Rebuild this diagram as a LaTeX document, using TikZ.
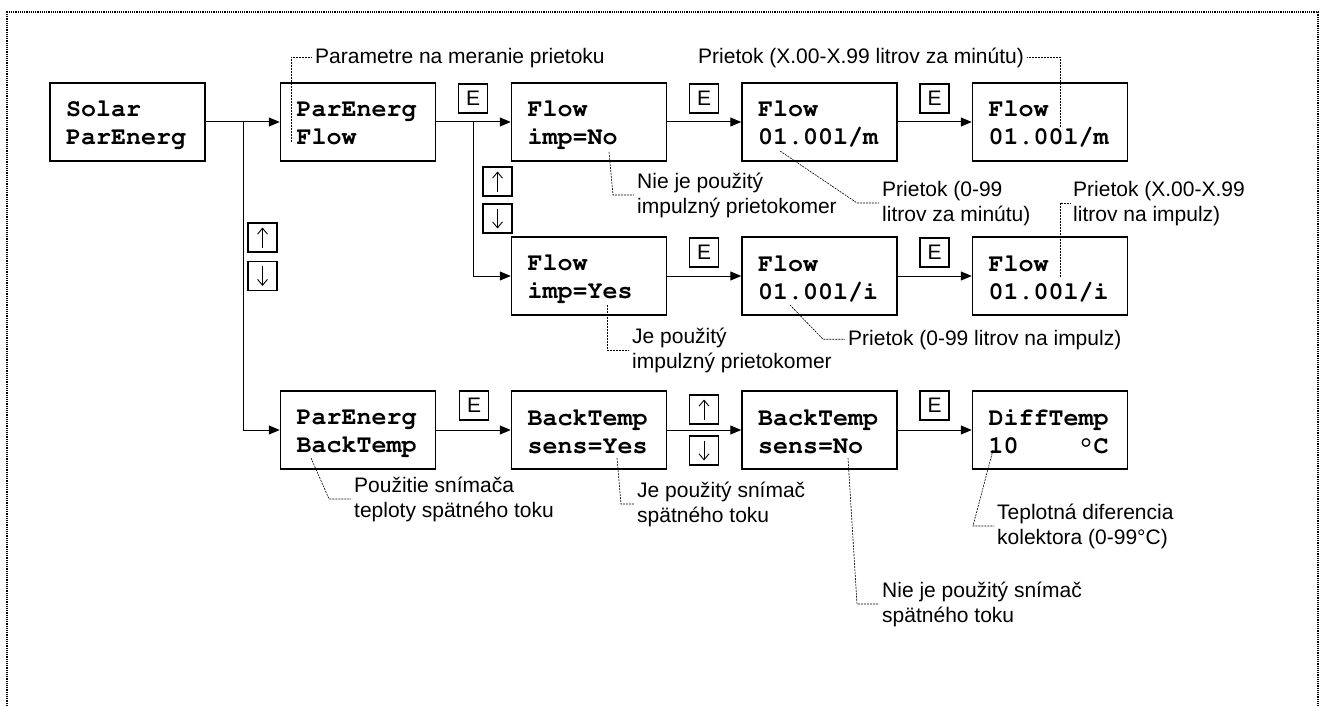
\documentclass[tikz,border=0pt]{standalone}
\usepackage{fontspec}
\setmainfont{Liberation Sans}
\usetikzlibrary{arrows.meta,calc}

% display font: bold Courier
\newcommand\lcdface{\fontencoding{T1}\fontfamily{pcr}\fontseries{b}\fontsize{25}{28}\selectfont}
\newcommand\lcddeg{{\fontencoding{TS1}\selectfont\char176}}
% struts keep every display line and every note line at a fixed height
\newcommand\lcdstrut{\rule[-2pt]{0pt}{22pt}}
\newcommand\notestrut{\rule[-5pt]{0pt}{22pt}}

\tikzset{
  lcd/.style={draw, line width=1.5pt, minimum width=155pt, minimum height=78pt,
    text width=123pt, inner xsep=16pt, inner ysep=0pt, align=left,
    font=\lcdface},
  key/.style={draw, line width=1.1pt, minimum width=29pt, minimum height=29pt,
    inner sep=0pt, font=\fontsize{21}{21}\selectfont},
  keyarrow/.style={line width=0.9pt, -{Straight Barb[length=6pt,width=10pt]}},
  note/.style={anchor=north west, inner xsep=3pt, inner ysep=0pt, align=left,
    font=\fontsize{21}{25.5}\selectfont},
  flow/.style={line width=1pt, -{Triangle[length=11pt,width=9pt]}},
  leader/.style={line width=0.6pt, dash pattern=on 2pt off 1pt},
  frame/.style={line width=2pt, dash pattern=on 1.2pt off 1pt},
}

\begin{document}
\begin{tikzpicture}[x=1pt,y=-1pt]
\useasboundingbox (0,0) rectangle (1323,706);

% page frame
\draw[frame] (7,706) -- (7,12.5) -- (1318,12.5) -- (1318,706);

% display states
\node[lcd] (solar)   at (127.5,122) {\lcdstrut Solar\\\lcdstrut ParEnerg};
\node[lcd] (pflow)   at (358,122)   {\lcdstrut ParEnerg\\\lcdstrut Flow};
\node[lcd] (impno)   at (589,122)   {\lcdstrut Flow\\\lcdstrut imp=No};
\node[lcd] (flowm)   at (819.5,122) {\lcdstrut Flow\\\lcdstrut 01.00l/m};
\node[lcd] (flowmx)  at (1050,122)  {\lcdstrut Flow\\\lcdstrut 01.00l/m};
\node[lcd] (impyes)  at (589,276)   {\lcdstrut Flow\\\lcdstrut imp=Yes};
\node[lcd] (flowi)   at (819.5,276) {\lcdstrut Flow\\\lcdstrut 01.00l/i};
\node[lcd] (flowix)  at (1050,276)  {\lcdstrut Flow\\\lcdstrut 01.00l/i};
\node[lcd] (pback)   at (358,430)   {\lcdstrut ParEnerg\\\lcdstrut BackTemp};
\node[lcd] (sensyes) at (589,430)   {\lcdstrut BackTemp\\\lcdstrut sens=Yes};
\node[lcd] (sensno)  at (819.5,430) {\lcdstrut BackTemp\\\lcdstrut sens=No};
\node[lcd] (diff)    at (1050,430)  {\lcdstrut DiffTemp\\\lcdstrut 10\hphantom{0000}\lcddeg C};

% branch points
\coordinate (b1) at (243,122);
\coordinate (b2) at (473,122);

% transitions
\draw[flow] (solar.east) -- (pflow.west);
\draw[flow] (b1) |- (pback.west);
\draw[flow] (pflow.east) -- (impno.west);
\draw[flow] (b2) |- (impyes.west);
\draw[flow] (impno.east) -- (flowm.west);
\draw[flow] (flowm.east) -- (flowmx.west);
\draw[flow] (impyes.east) -- (flowi.west);
\draw[flow] (flowi.east) -- (flowix.west);
\draw[flow] (pback.east) -- (sensyes.west);
\draw[flow] (sensyes.east) -- (sensno.west);
\draw[flow] (sensno.east) -- (diff.west);

% keys
\node[key] (e1) at (473,98.5)   {E};
\node[key] (e2) at (704,98.5)   {E};
\node[key] (e3) at (934.5,98.5) {E};
\node[key] (e4) at (704,252.5)  {E};
\node[key] (e5) at (934.5,252.5){E};
\node[key] (e6) at (474,405.5)  {E};
\node[key] (e7) at (934.5,405.5){E};
\node[key] (u1) at (262.5,237.5) {};
\node[key] (d1) at (262.5,276)   {};
\node[key] (u2) at (497.5,181.5) {};
\node[key] (d2) at (497.5,218.5) {};
\node[key] (u3) at (704,409.5)   {};
\node[key] (d3) at (704,450.5)   {};
\foreach \k in {u1,u2,u3}
  \draw[keyarrow] ($(\k.center)+(0,10)$) -- ($(\k.center)+(0,-10)$);
\foreach \k in {d1,d2,d3}
  \draw[keyarrow] ($(\k.center)+(0,-10)$) -- ($(\k.center)+(0,10)$);

% notes
\node[note] (n1)  at (312,46)  {\notestrut Parametre na meranie prietoku};
\node[note] (n2)  at (695,46)  {\notestrut Prietok (X.00-X.99 litrov za minútu)};
\node[note] (n3)  at (634,171) {\notestrut Nie je použitý\\\notestrut impulzný prietokomer};
\node[note] (n4)  at (879,179) {\notestrut Prietok (0-99\\\notestrut litrov za minútu)};
\node[note] (n5)  at (1070,179){\notestrut Prietok (X.00-X.99\\\notestrut litrov na impulz)};
\node[note] (n6)  at (629,326) {\notestrut Je použitý\\\notestrut impulzný prietokomer};
\node[note] (n7)  at (845,328) {\notestrut Prietok (0-99 litrov na impulz)};
\node[note] (n8)  at (351,475) {\notestrut Použitie snímača\\\notestrut teploty spätného toku};
\node[note] (n9)  at (634,480) {\notestrut Je použitý snímač\\\notestrut spätného toku};
\node[note] (n10) at (879,580) {\notestrut Nie je použitý snímač\\\notestrut spätného toku};
\node[note] (n11) at (994,502) {\notestrut Teplotná diferencia\\\notestrut kolektora (0-99°C)};

% leader lines from the display fields to their notes
\coordinate (s1)  at (291,142);
\coordinate (s2)  at (1060,127);
\coordinate (s3)  at (609,152);
\coordinate (s4)  at (780,151);
\coordinate (s5)  at (1060,277);
\coordinate (s6)  at (607,305);
\coordinate (s7)  at (790,305);
\coordinate (s8)  at (311,458);
\coordinate (s9)  at (617,458);
\coordinate (s10) at (848,458);
\coordinate (s11) at (993,450);

\draw[leader] (s1) |- (n1.west);
\draw[leader] (s2) |- (n2.east);
\draw[leader] (s3) -- (613,0 |- n3.west) -- (n3.west);
\draw[leader] (s4) -- (857,0 |- n4.west) -- (n4.west);
\draw[leader] (s5) |- (n5.west);
\draw[leader] (s6) |- (n6.west);
\draw[leader] (s7) -- (823,0 |- n7.west) -- (n7.west);
\draw[leader] (s8) -- (329,0 |- n8.west) -- (n8.west);
\draw[leader] (s9) -- (621,0 |- n9.west) -- (n9.west);
\draw[leader] (s10) -- (857,0 |- n10.west) -- (n10.west);
\draw[leader] (s11) -- (973,0 |- n11.west) -- (n11.west);
\end{tikzpicture}
\end{document}
